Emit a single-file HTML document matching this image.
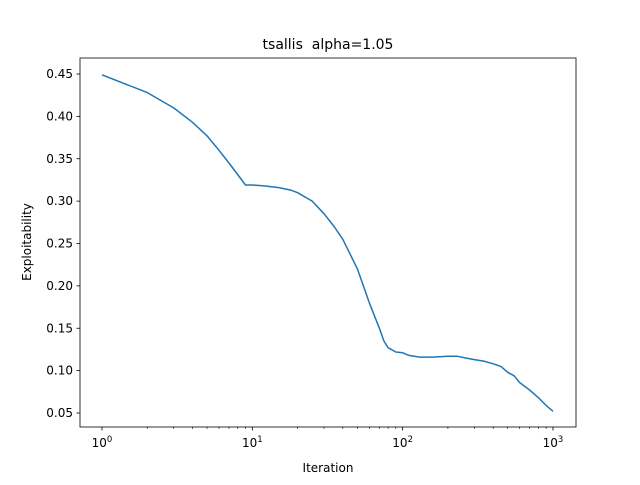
<!DOCTYPE html>
<html><head><meta charset="utf-8"><style>
body{margin:0;background:#fff;font-family:"Liberation Sans","DejaVu Sans",sans-serif}
svg text{font-family:"DejaVu Sans","Liberation Sans",sans-serif}
</style></head><body>
<svg id="chart" width="640" height="480" viewBox="0 0 640 480">
<rect x="0" y="0" width="640" height="480" fill="#fff"/>
<text x="328" y="49" text-anchor="middle" font-size="14" xml:space="preserve" style="white-space:pre">tsallis  alpha=1.05</text>
<g id="plot"></g>
<rect x="80" y="58" width="496" height="369" fill="none" stroke="#000" stroke-width="0.8"/>
<text x="328" y="472" text-anchor="middle" font-size="12">Iteration</text>
<text transform="translate(31,242) rotate(-90)" text-anchor="middle" font-size="12">Exploitability</text>
</svg>
<script>
const iterations=[1,2,3,4,5,6,7,9,10,12,15,18,20,25,30,35,40,50,60,70,75,80,90,100,110,130,160,200,230,260,300,350,400,450,500,550,600,700,800,900,1000];
const exploitability=[0.449,0.428,0.41,0.393,0.377,0.36,0.345,0.319,0.319,0.318,0.316,0.313,0.31,0.30,0.285,0.27,0.255,0.22,0.18,0.15,0.135,0.127,0.122,0.121,0.118,0.116,0.116,0.117,0.117,0.115,0.113,0.111,0.108,0.105,0.098,0.094,0.086,0.077,0.068,0.059,0.052];
const yTicks=[0.05,0.10,0.15,0.20,0.25,0.30,0.35,0.40,0.45];
const xTickExps=[0,1,2,3];
const ns="http://www.w3.org/2000/svg";
function xs(v){return 102+150.33*Math.log10(v);}
function ys(v){return 413-(v-0.05)/0.05*42.375;}
const g=document.getElementById('plot');
function mk(t,a,txt){const e=document.createElementNS(ns,t);for(const k in a)e.setAttribute(k,a[k]);if(txt!==undefined)e.textContent=txt;g.appendChild(e);return e;}
yTicks.forEach(v=>{const y=ys(v);
const t=mk('line',{x1:76.5,x2:80,y1:y,y2:y,stroke:'#000','stroke-width':0.8});


const l=mk('text',{x:73,y:y+4,'text-anchor':'end','font-size':12},v.toFixed(2));

});
xTickExps.forEach(e=>{const x=xs(Math.pow(10,e));
const t=mk('line',{x1:x,x2:x,y1:427,y2:430.5,stroke:'#000','stroke-width':0.8});


const l=mk('text',{x:x,y:447,'text-anchor':'middle','font-size':12});


l.innerHTML='10<tspan dy="-5" font-size="8.5">'+e+'</tspan>';
if(e<3){for(let k=2;k<10;k++){const xm=xs(k*Math.pow(10,e));
const m=mk('line',{x1:xm,x2:xm,y1:427,y2:429,stroke:'#000','stroke-width':0.6});

}}});
const d=iterations.map((v,i)=>(i?'L':'M')+xs(v).toFixed(1)+','+ys(exploitability[i]).toFixed(1)).join('');
const p=mk('path',{d:d,fill:'none',stroke:'#1f77b4','stroke-width':1.5,'stroke-linejoin':'round'});


</script>
</body></html>
